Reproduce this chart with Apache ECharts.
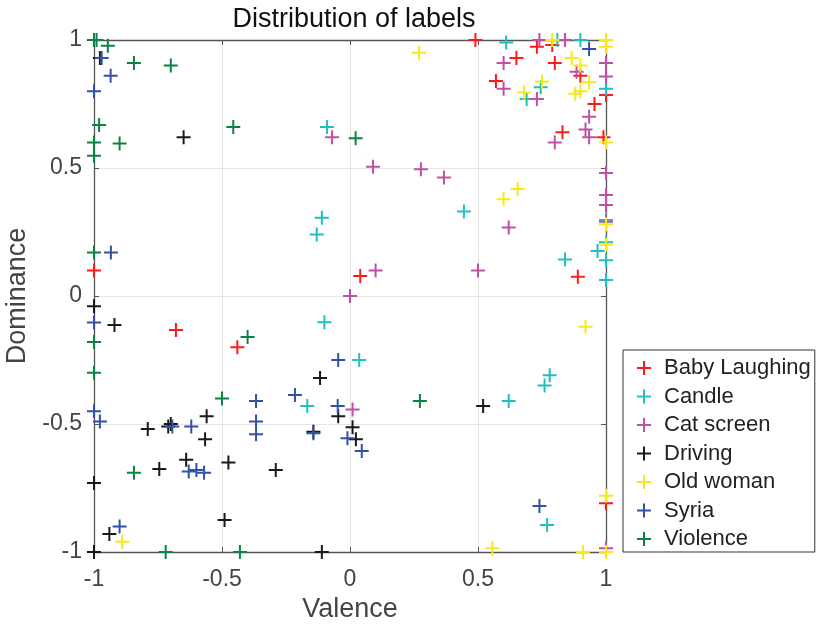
<!DOCTYPE html>
<html><head><meta charset="utf-8">
<script src="https://cdn.jsdelivr.net/npm/echarts@6/dist/echarts.min.js"></script>
<style>html,body{margin:0;padding:0;background:#fff}#c{width:817px;height:626px}</style>
</head><body><div id="c"></div>
<script>
const seriesNames = ['Baby Laughing','Candle','Cat screen','Driving','Old woman','Syria','Violence'];
const xTicks = [-1,-0.5,0,0.5,1];
const yTicks = [-1,-0.5,0,0.5,1];

const babyLaughing = [[0.49,1.0],[0.73,0.974],[0.79,0.98],[0.65,0.93],[0.80,0.91],[0.57,0.84],[0.90,0.86],[1.0,0.91],[1.0,0.785],[0.955,0.75],[0.83,0.64],[0.99,0.62],[0.89,0.075],[0.04,0.078],[-1.0,0.10],[-0.68,-0.133],[-0.44,-0.20],[1.0,-0.81]];
const candle = [[0.61,0.99],[0.81,1.0],[0.90,1.0],[0.745,0.815],[0.69,0.77],[1.0,0.81],[-0.09,0.66],[-0.11,0.306],[-0.13,0.24],[0.445,0.33],[0.84,0.143],[0.967,0.176],[1.0,0.14],[1.0,0.0625],[1.0,0.297],[1.0,0.21],[-0.10,-0.103],[0.036,-0.25],[-0.167,-0.43],[0.78,-0.31],[0.76,-0.35],[0.62,-0.41],[0.77,-0.895]];
const catScreen = [[-0.07,0.62],[0.09,0.505],[0.277,0.495],[0.74,1.0],[0.84,1.0],[0.60,0.91],[0.60,0.81],[0.73,0.77],[0.885,0.876],[1.0,0.91],[1.0,0.857],[0.934,0.70],[0.92,0.65],[0.934,0.62],[0.80,0.60],[1.0,0.48],[0.367,0.463],[1.0,0.395],[1.0,0.355],[1.0,0.29],[0.62,0.268],[0.50,0.10],[0.10,0.10],[0.0,0.0],[0.01,-0.443],[1.0,-0.985]];
const driving = [[-0.977,0.93],[-0.65,0.62],[-1.0,-0.04],[-0.92,-0.113],[-0.56,-0.47],[-0.79,-0.52],[-0.71,-0.51],[-0.70,-0.50],[-0.566,-0.56],[-0.117,-0.32],[-0.046,-0.47],[0.01,-0.513],[-0.143,-0.53],[0.023,-0.56],[0.52,-0.43],[-0.64,-0.64],[-0.745,-0.676],[-0.475,-0.65],[-1.0,-0.73],[-0.49,-0.875],[-0.94,-0.93],[-1.0,-1.0],[-0.29,-0.68],[-0.11,-1.0]];
const oldWoman = [[0.27,0.95],[0.79,1.0],[1.0,1.0],[1.0,0.974],[0.866,0.93],[0.90,0.90],[0.934,0.835],[0.90,0.80],[0.88,0.79],[0.75,0.837],[0.68,0.795],[1.0,0.60],[0.655,0.418],[0.60,0.378],[1.0,0.28],[1.0,0.20],[0.92,-0.12],[1.0,-0.78],[0.556,-0.985],[0.91,-1.0],[1.0,-1.0],[-0.89,-0.96]];
const syria = [[-0.97,0.93],[-0.935,0.86],[-1.0,0.80],[-0.934,0.17],[-1.0,-0.104],[-1.0,-0.45],[-0.977,-0.49],[-0.694,-0.51],[-0.62,-0.51],[-0.367,-0.41],[-0.367,-0.49],[-0.367,-0.54],[-0.046,-0.25],[-0.215,-0.387],[-0.048,-0.43],[-0.143,-0.536],[-0.01,-0.556],[-0.63,-0.686],[-0.60,-0.68],[-0.57,-0.69],[-0.90,-0.90],[0.046,-0.605],[0.934,0.965],[0.74,-0.82]];
const violence = [[-1.0,1.0],[-0.99,1.0],[-0.946,0.978],[-0.844,0.91],[-0.70,0.90],[-0.98,0.668],[-0.456,0.66],[-1.0,0.60],[-0.90,0.596],[-1.0,0.548],[0.022,0.616],[-1.0,0.17],[-1.0,-0.18],[-1.0,-0.30],[-0.40,-0.16],[-0.50,-0.40],[0.273,-0.41],[-0.844,-0.69],[-0.72,-1.0],[-0.43,-1.0]];

const seriesData = [babyLaughing,candle,catScreen,driving,oldWoman,syria,violence];
const colors = ['#ff1a1a','#22bfc0','#bf50a3','#1a1a1a','#f7e81a','#3352a5','#0a8444'];
const plus = 'path://M-1,-7H1V-1H7V1H1V7H-1V1H-7V-1H-1Z';
const font = '"Liberation Sans", Arial, sans-serif';

const chart = echarts.init(document.getElementById('c'), null, {renderer:'canvas'});
const axisCommon = {
  type:'value', min:-1, max:1, interval:0.5,
  axisLine:{show:true, onZero:false, lineStyle:{color:'#555', width:1.3}},
  axisTick:{show:true, inside:true, length:5, lineStyle:{color:'#555'}},
};
chart.setOption({
  animation:false,
  color:colors,
  title:{text:'Distribution of labels', left:349, top:1, textAlign:'center',
    textStyle:{fontFamily:font, fontSize:27, fontWeight:'normal', color:'#111'}},
  grid:{left:94, right:211, top:40, bottom:74, containLabel:false, outerBoundsMode:'none'},
  legend:{
    orient:'vertical', left:623, top:350,
    padding:[7,4,2,14], itemGap:6.5, itemWidth:14, itemHeight:14,
    borderColor:'#333', borderWidth:1, backgroundColor:'#fff',
    icon:plus, data:seriesNames,
    textStyle:{fontFamily:font, fontSize:22, color:'#222', padding:[0,0,0,8]}
  },
  xAxis:[
    Object.assign({}, axisCommon, {position:'bottom', name:'Valence', nameLocation:'middle', nameGap:43,
      nameTextStyle:{fontFamily:font, fontSize:27, color:'#444'},
      axisLabel:{fontFamily:font, fontSize:23, color:'#444', margin:16,
        formatter:v=> xTicks.includes(v)? String(v):''},
      splitLine:{show:true, lineStyle:{color:'#e6e6e6', width:1}}}),
    Object.assign({}, axisCommon, {position:'top', axisLabel:{show:false}, splitLine:{show:false}})
  ],
  yAxis:[
    Object.assign({}, axisCommon, {position:'left', name:'Dominance', nameLocation:'middle', nameGap:55,
      nameTextStyle:{fontFamily:font, fontSize:27, color:'#444'},
      axisLabel:{fontFamily:font, fontSize:23, color:'#444', margin:12,
        formatter:v=> yTicks.includes(v)? String(v):''},
      splitLine:{show:true, lineStyle:{color:'#e6e6e6', width:1}}}),
    Object.assign({}, axisCommon, {position:'right', axisLabel:{show:false}, splitLine:{show:false}})
  ],
  series: seriesNames.map((n,i)=>({
    name:n, type:'scatter', data:seriesData[i], symbol:plus, symbolSize:14,
    itemStyle:{color:colors[i], opacity:1}, emphasis:{disabled:true}, clip:false
  }))
});
</script></body></html>
